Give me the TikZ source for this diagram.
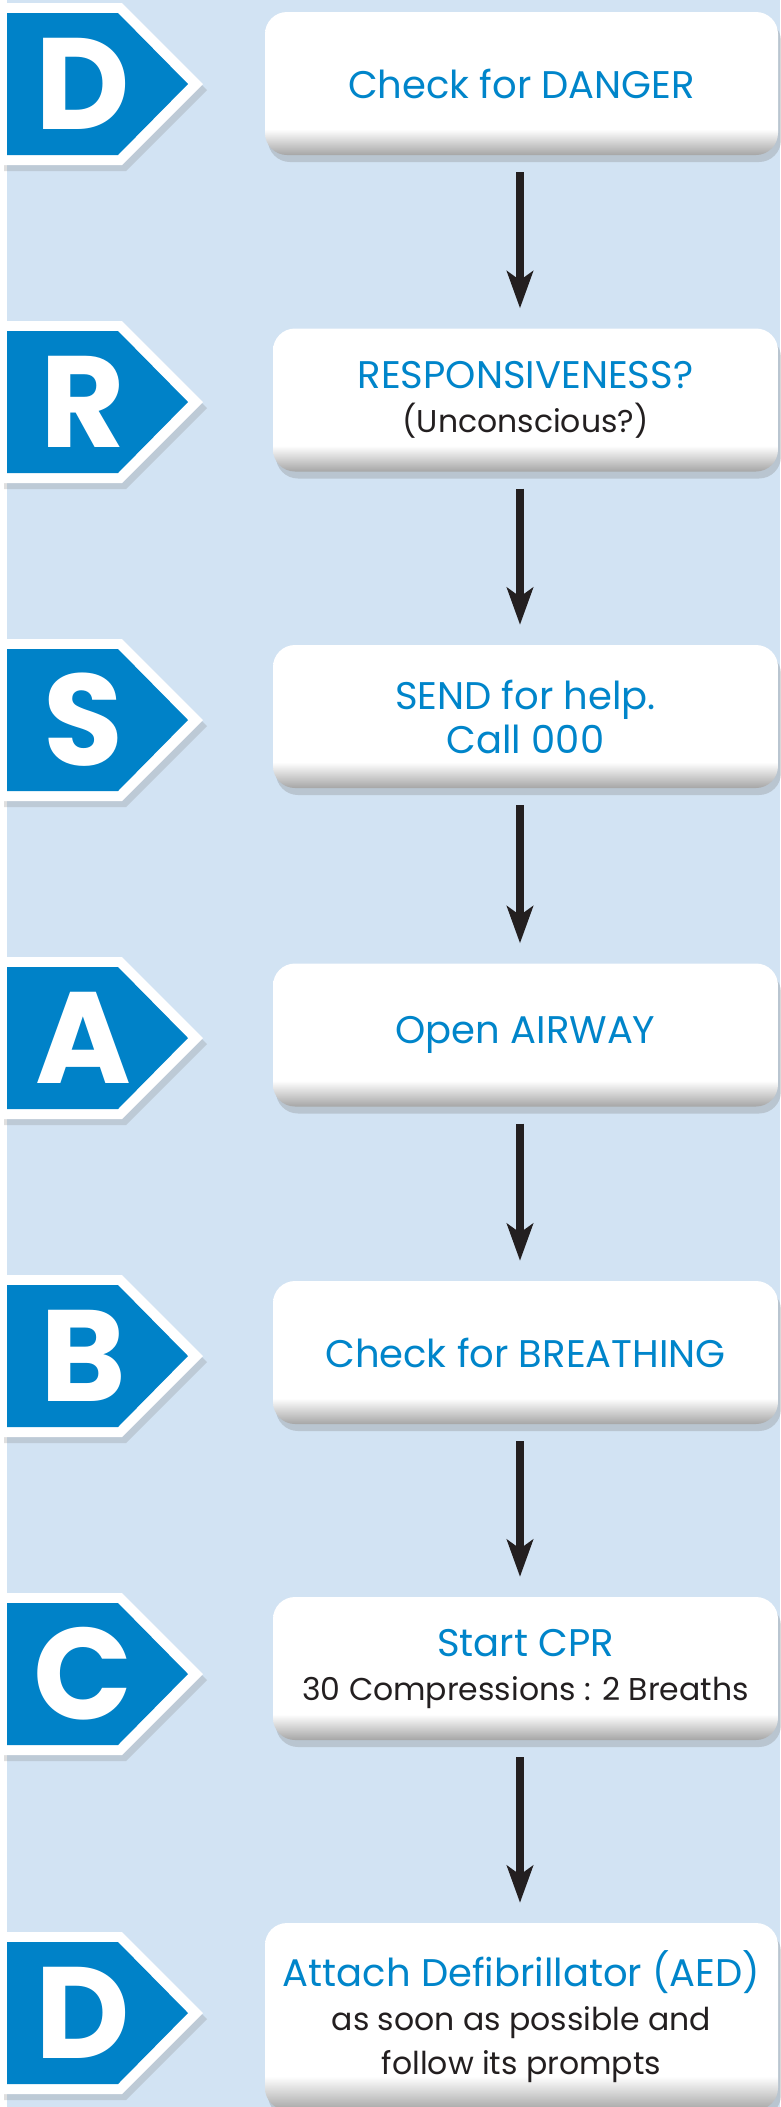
\documentclass[tikz,border=0pt]{standalone}
\usepackage{fontspec}
\setmainfont{Poppins}
\usetikzlibrary{arrows.meta, shadows}

\definecolor{bgblue}{RGB}{210,227,243}
\definecolor{badgeblue}{RGB}{0,130,200}
\definecolor{textblue}{RGB}{0,133,202}
\definecolor{ink}{RGB}{35,31,32}

% white box, grey towards the bottom edge
\pgfdeclareverticalshading{boxshade}{100bp}{color(0bp)=(black!35); color(25bp)=(black!35); color(34bp)=(white); color(100bp)=(white)}

\newcommand{\subline}[1]{{\color{ink}\fontsize{31.5}{42}\selectfont #1}}

\begin{document}
\begin{tikzpicture}[
		x=1pt, y=-1pt,
		every node/.style={inner sep=0pt},
		stepbox/.style={rectangle, rounded corners=22pt, shade, shading=boxshade,
				minimum height=143pt, align=center, text=textblue,
				font=\fontsize{38.5}{44}\selectfont,
				drop shadow={shadow xshift=3pt, shadow yshift=-7pt, opacity=0.3}},
		letter/.style={text=white, font=\fontsize{130}{130}\selectfont\bfseries},
		flow/.style={line width=8pt, draw=ink, shorten <=17pt, shorten >=20pt,
				-{Stealth[length=37pt, width=26pt, inset=9pt]}}
	]

	\useasboundingbox (0,0) rectangle (780,2107);

	% background
	\fill[white] (0,0) rectangle (780,2107);
	\fill[bgblue] (7,0) rectangle (780,2107);

	% letter badges
	\foreach \cy/\ltr [count=\i] in {84/D,402/R,720/S,1038/A,1356/B,1674/C,2013/D} {
			\fill[white, drop shadow={shadow xshift=4pt, shadow yshift=-6pt, opacity=0.25}]
			(0,\cy-81) -- (122,\cy-81) -- (203,\cy) -- (122,\cy+81) -- (0,\cy+81) -- cycle;
			\fill[badgeblue] (7,\cy-71) -- (118,\cy-71) -- (188,\cy) -- (118,\cy+71) -- (7,\cy+71) -- cycle;
			\node[letter] (ltr\i) at (83,\cy) {\ltr};
		}

	% steps
	\node[stepbox, minimum width=513pt] (danger) at (521.5,83.5) {Check for DANGER};
	\node[stepbox, minimum width=505pt] (respond) at (525.5,400) {RESPONSIVENESS?\\\subline{(Unconscious?)}};
	\node[stepbox, minimum width=505pt] (send) at (525.5,716.5) {SEND for help.\\Call 000};
	\node[stepbox, minimum width=505pt] (airway) at (525.5,1035) {Open AIRWAY};
	\node[stepbox, minimum width=505pt] (breath) at (525.5,1352.5) {Check for BREATHING};
	\node[stepbox, minimum width=505pt] (cpr) at (525.5,1668.5) {Start CPR\\\subline{30 Compressions : 2 Breaths}};
	\node[stepbox, minimum width=513pt, minimum height=187pt] (aed) at (521.5,2016.5)
	{Attach Defibrillator (AED)\\\subline{as soon as possible and}\\\subline{follow its prompts}};

	% arrows
	\coordinate (ax) at (520,0);
	\draw[flow] (danger.south -| ax) -- (respond.north -| ax);
	\draw[flow] (respond.south -| ax) -- (send.north -| ax);
	\draw[flow] (send.south -| ax) -- (airway.north -| ax);
	\draw[flow] (airway.south -| ax) -- (breath.north -| ax);
	\draw[flow] (breath.south -| ax) -- (cpr.north -| ax);
	\draw[flow] (cpr.south -| ax) -- (aed.north -| ax);

\end{tikzpicture}
\end{document}
